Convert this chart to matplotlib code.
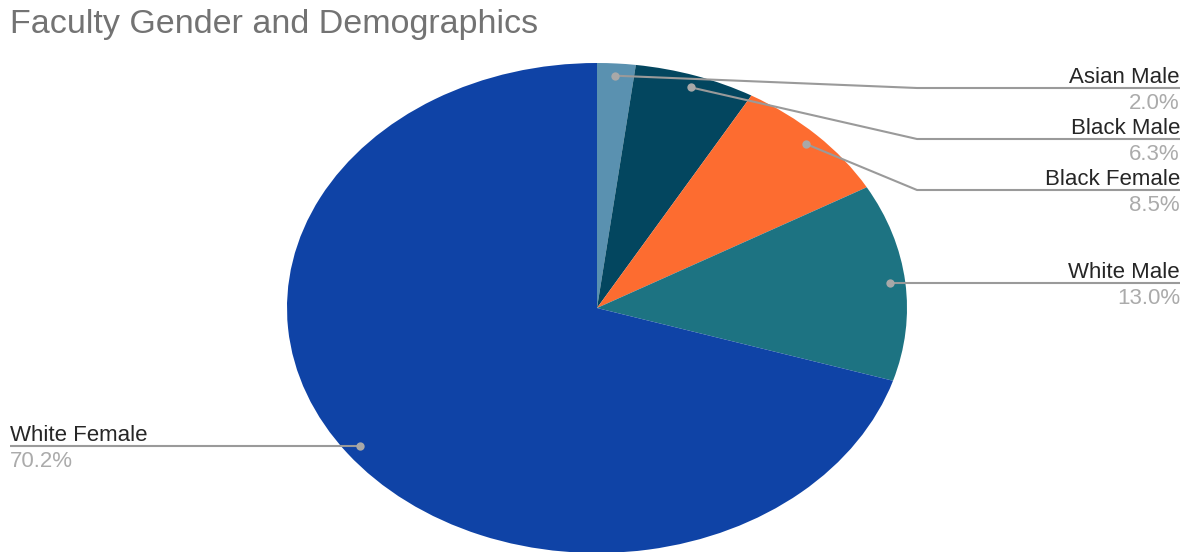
import numpy as np
import matplotlib
matplotlib.use('Agg')
import matplotlib.pyplot as plt

plt.rcParams['font.family'] = ['Liberation Sans', 'DejaVu Sans']

# data
labels = ['Asian Male', 'Black Male', 'Black Female', 'White Male', 'White Female']
values = [2.0, 6.3, 8.5, 13.0, 70.2]
colors = ['#5a91b0', '#03465f', '#fd6c30', '#1d7382', '#0f43a6']

# layout (pixels, origin top-left)
W, H = 1195, 552
cx, cy, rx, ry = 597, 308, 310, 245
label_y = [88, 139, 190, 283, 446]   # y of horizontal leader line
elbow_x = [917, 917, 917, None, None]

fig = plt.figure(figsize=(W / 100, H / 100), dpi=100)

# pie axes: unit circle stretched into the ellipse
ax = fig.add_axes([(cx - rx) / W, (H - cy - ry) / H, 2 * rx / W, 2 * ry / H])
ax.pie(values, colors=colors, startangle=90, counterclock=False,
       wedgeprops=dict(linewidth=0))
ax.set_aspect('auto')
ax.set_xlim(-1, 1)
ax.set_ylim(-1, 1)
ax.axis('off')

# overlay in pixel coordinates for leader lines and text
ov = fig.add_axes([0, 0, 1, 1], facecolor='none')
ov.set_xlim(0, W)
ov.set_ylim(H, 0)
ov.axis('off')

ov.text(10, 33, 'Faculty Gender and Demographics', fontsize=24.5,
        color='#737373', va='baseline', ha='left')

cum = np.cumsum([0] + values[:-1])
for i, (lab, v) in enumerate(zip(labels, values)):
    theta = np.deg2rad((cum[i] + v / 2) / 100 * 360)
    dx = cx + 0.95 * rx * np.sin(theta)
    dy = cy - 0.95 * ry * np.cos(theta)
    ly = label_y[i]
    if np.sin(theta) >= 0:
        if elbow_x[i]:
            pts_x, pts_y = [dx, elbow_x[i], 1180], [dy, ly, ly]
        else:
            dy = ly
            pts_x, pts_y = [dx, 1180], [ly, ly]
        tx, ha = 1180, 'right'
    else:
        dy = ly
        pts_x, pts_y = [dx, 10], [ly, ly]
        tx, ha = 10, 'left'
    ov.plot(pts_x, pts_y, color='#9a9a9a', lw=1.5, solid_capstyle='butt')
    ov.plot(dx, dy, 'o', color='#a8a8a8', ms=6, mec='none')
    ov.text(tx, ly - 5, lab, fontsize=16, color='#262626', ha=ha, va='baseline')
    ov.text(tx, ly + 21, f'{v:.1f}%', fontsize=16, color='#ababab', ha=ha, va='baseline')

fig.savefig('out.png', dpi=100)
